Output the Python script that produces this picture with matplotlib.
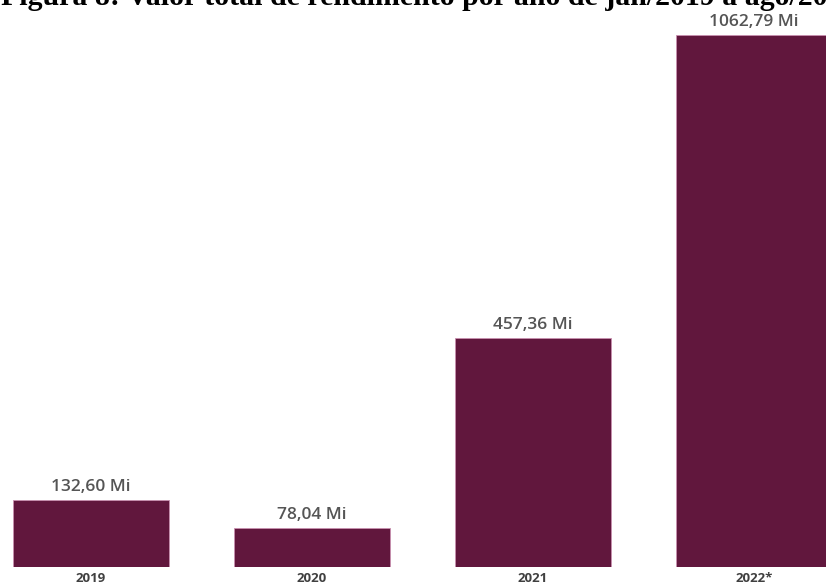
import matplotlib
matplotlib.use("Agg")
import matplotlib.pyplot as plt

years = ["2019", "2020", "2021", "2022*"]
values = [132.60, 78.04, 457.36, 1062.79]
labels = ["132,60 Mi", "78,04 Mi", "457,36 Mi", "1062,79 Mi"]
title = "Figura 8: Valor total de rendimento por ano de jan/2019 a ago/2022"

W, H = 826, 588
fig = plt.figure(figsize=(W / 100, H / 100), dpi=100)
fig.patch.set_facecolor("white")

ax = fig.add_axes([0, 21.3 / H, 1, 566.7 / H])
x = list(range(len(years)))
ax.bar(x, values, width=0.706, color="#61173d", edgecolor="#c98fb0", linewidth=0.6)
ax.set_xlim(-91 / 221, (W - 91) / 221)
ax.set_ylim(0, 566.7 / 0.5007)
for s in ax.spines.values():
    s.set_visible(False)
ax.set_yticks([])
ax.set_xticks([])

for xi, v, lab in zip(x, values, labels):
    ax.annotate(lab, (xi, v), xytext=(0, 3.5), textcoords="offset points",
                ha="center", va="bottom", fontsize=12.5, color="#555555",
                family="Open Sans", fontweight="semibold")
for xi, y in zip(x, years):
    ax.annotate(y, (xi, 0), xytext=(0, -8.5), textcoords="offset points",
                ha="center", va="center", fontsize=9.5, color="#404040",
                family="Open Sans", fontweight="bold", annotation_clip=False)

fig.text(1 / W, 1 - 5 / H, title, ha="left", va="baseline",
         fontsize=21.5, fontweight="bold", family="Liberation Serif", color="black")

fig.savefig("out.png", dpi=100)
